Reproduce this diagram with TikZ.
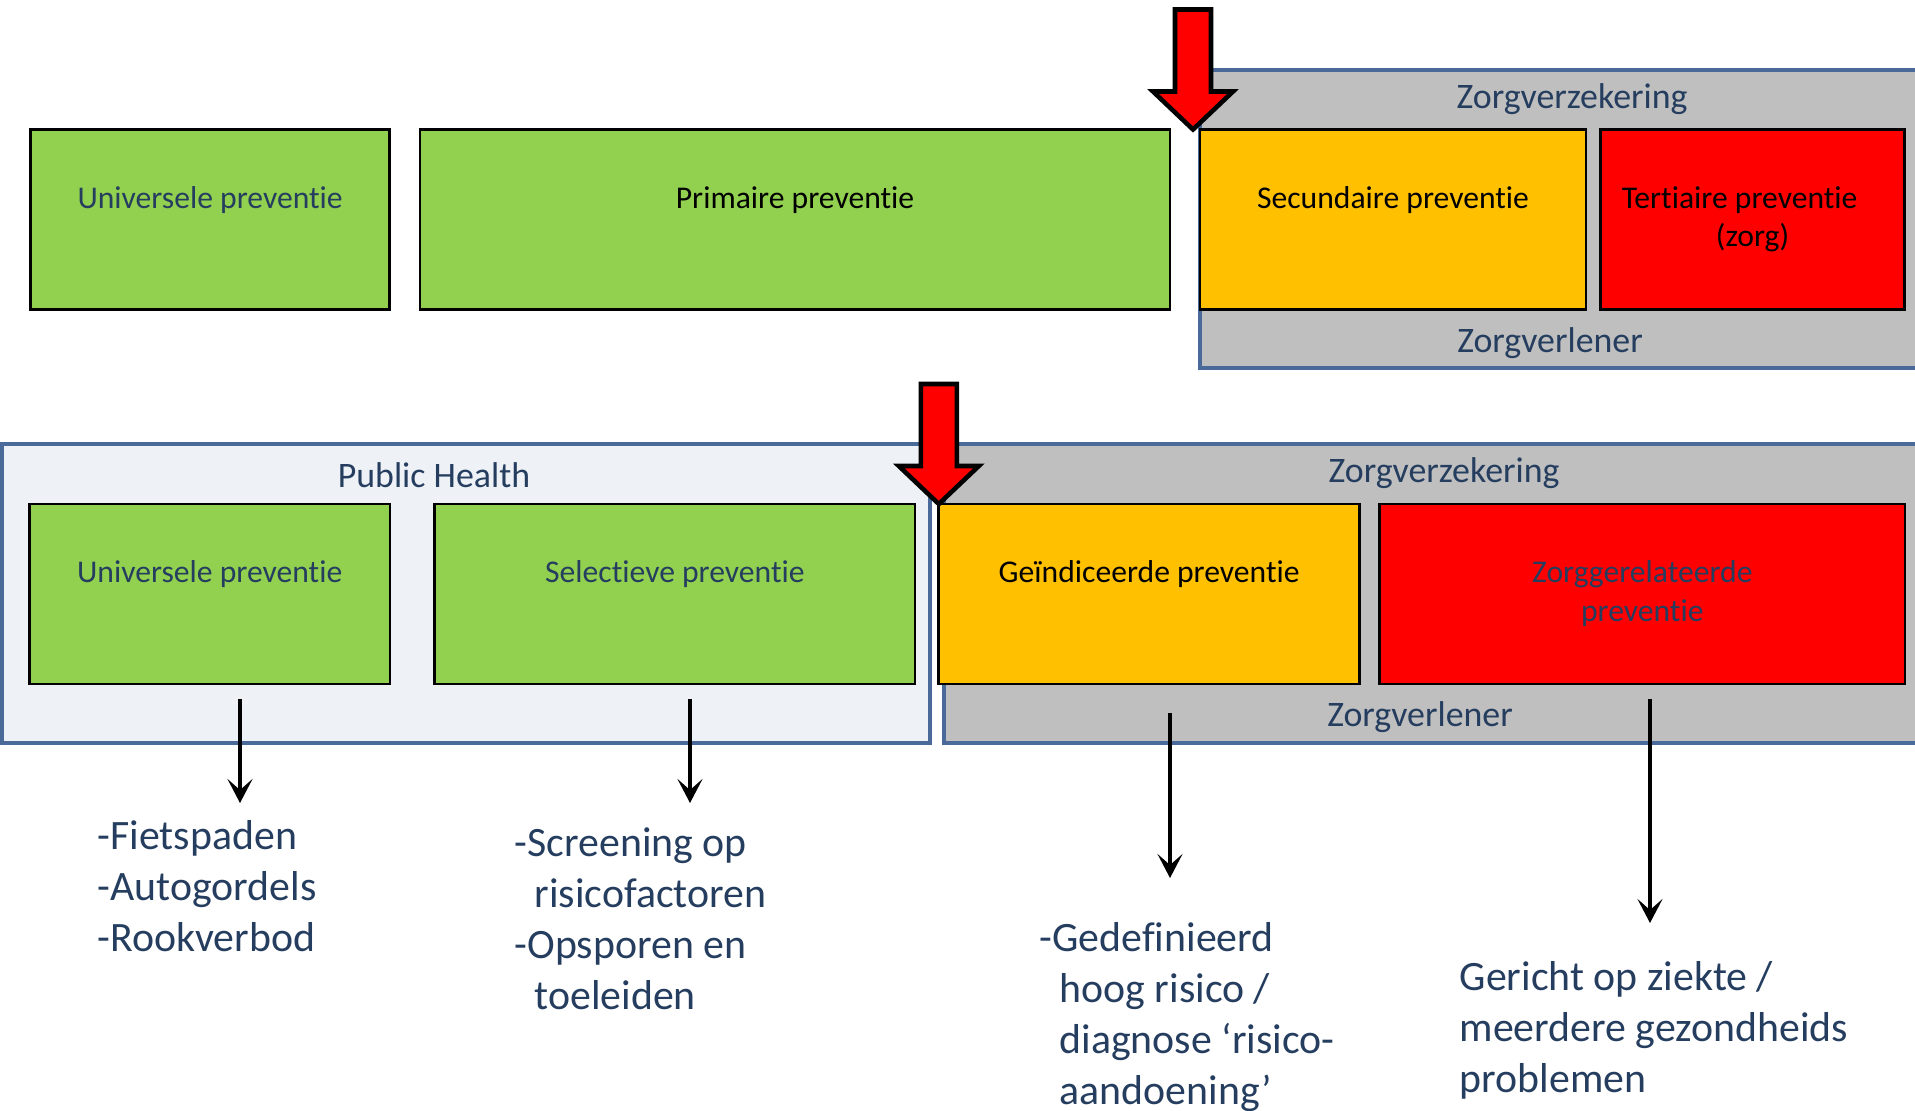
\documentclass[tikz,border=0pt]{standalone}
\usepackage{fontspec}
\setmainfont{Carlito}[Ligatures={TeX,NoCommon}]
\usetikzlibrary{arrows.meta}
\definecolor{prevgreen}{HTML}{92D050}
\definecolor{prevorange}{HTML}{FFC000}
\definecolor{prevred}{HTML}{FF0000}
\definecolor{zonegray}{HTML}{BFBFBF}
\definecolor{zoneblue}{HTML}{4A6B9A}
\definecolor{phfill}{HTML}{EEF2F7}
\definecolor{navy}{HTML}{253D5E}
\tikzset{
  prevbox/.style={draw=black, line width=.8pt, minimum height=18mm,
    inner sep=0, outer sep=0},
  prevtext/.style={anchor=north, inner sep=0, align=center,
    font=\fontsize{9}{11}\selectfont},
  zone/.style={draw=zoneblue, line width=1.1pt},
  zonetext/.style={anchor=base, inner sep=0, text=navy,
    font=\fontsize{10.2}{12}\selectfont},
  listtext/.style={anchor=north west, inner sep=0, align=left, text=navy,
    font=\fontsize{11.9}{14.5}\selectfont},
  downarrow/.style={line width=1.2pt,
    -{Stealth[length=2.4mm, width=2.5mm, inset=1.1mm]}},
  bigarrow/.style={draw=black, line width=1.3pt, fill=prevred, line join=miter}
}
\newcommand{\prevBox}[7]{ \node[prevbox, fill=#5, minimum width=(#3-#2)*.1mm,
  anchor=north west] (#1) at (#2,#4) {}; \node[prevtext, text=#6] (#1text)
  at ([yshift=-5.08mm]#1.north) {\strut #7}; }

\begin{document}
\begin{tikzpicture}[x=.1mm, y=-.1mm]
  \useasboundingbox (0,0) rectangle (1915,1110);
  \draw[zone, fill=zonegray] (1200,70) rectangle (1930,368);
  \draw[zone, fill=phfill] (2,444) rectangle (930,743);
  \draw[zone, fill=zonegray] (944,444) rectangle (1930,743);
  \node[zonetext] (verzTop) at (1572,108) {Zorgverzekering};
  \node[zonetext] (verlTop) at (1550,352) {Zorgverlener};
  \node[zonetext] (phealth) at (434,487) {Public Health};
  \node[zonetext] (verzBot) at (1444,482) {Zorgverzekering};
  \node[zonetext] (verlBot) at (1420,726) {Zorgverlener};

  \prevBox{uniTop}{30.5}{389.6}{129.5}{prevgreen}{navy}{Universele preventie}
  \prevBox{prim}{420}{1170}{129.5}{prevgreen}{black}{Primaire preventie}
  \prevBox{sec}{1200}{1586}{129.5}{prevorange}{black}{Secundaire preventie}
  \prevBox{ter}{1600.5}{1904.6}{129.5}{prevred}{black}{Tertiaire preventie\hspace*{2.6mm}\\(zorg)}
  \prevBox{uniBot}{29.4}{390}{504}{prevgreen}{navy}{Universele preventie}
  \prevBox{sel}{434.8}{914.9}{504}{prevgreen}{navy}{Selectieve preventie}
  \prevBox{gei}{938.8}{1359.5}{504}{prevorange}{black}{Geïndiceerde preventie}
  \prevBox{zgr}{1379.6}{1905}{504}{prevred}{navy}{Zorggerelateerde\\preventie}

  \node[listtext] (fiets) at (97,813) {\strut -Fietspaden\\-Autogordels\\-Rookverbod};
  \node[listtext] (screen) at (514,820) {\strut -Screening op\\\hspace*{2mm}risicofactoren\\-Opsporen en\\\hspace*{2mm}toeleiden};
  \node[listtext] (gedef) at (1039,915) {\strut -Gedefinieerd\\\hspace*{2mm}hoog risico /\\\hspace*{2mm}diagnose ‘risico-\\\hspace*{2mm}aandoening’};
  \node[listtext] (gericht) at (1459,954) {\strut Gericht op ziekte /\\meerdere gezondheids\\problemen};

  \coordinate (fietsTip) at (240,803);
  \coordinate (screenTip) at (690,803);
  \coordinate (gedefTip) at (1170,878);
  \coordinate (gerichtTip) at (1650,923);
  \draw[downarrow] (uniBot.south -| fietsTip) ++(0,15) -- (fietsTip);
  \draw[downarrow] (sel.south -| screenTip) ++(0,15) -- (screenTip);
  \draw[downarrow] (gei.south -| gedefTip) ++(0,29) -- (gedefTip);
  \draw[downarrow] (zgr.south -| gerichtTip) ++(0,15) -- (gerichtTip);

  \draw[bigarrow] ([xshift=-.7mm]sec.north west) -- ++(-40,-38) -- ++(22,0)
    -- ++(0,-82) -- ++(36,0) -- ++(0,82) -- ++(22,0) -- cycle;
  \draw[bigarrow] (gei.north west) -- ++(-40,-38) -- ++(22,0)
    -- ++(0,-82) -- ++(36,0) -- ++(0,82) -- ++(22,0) -- cycle;
\end{tikzpicture}
\end{document}
